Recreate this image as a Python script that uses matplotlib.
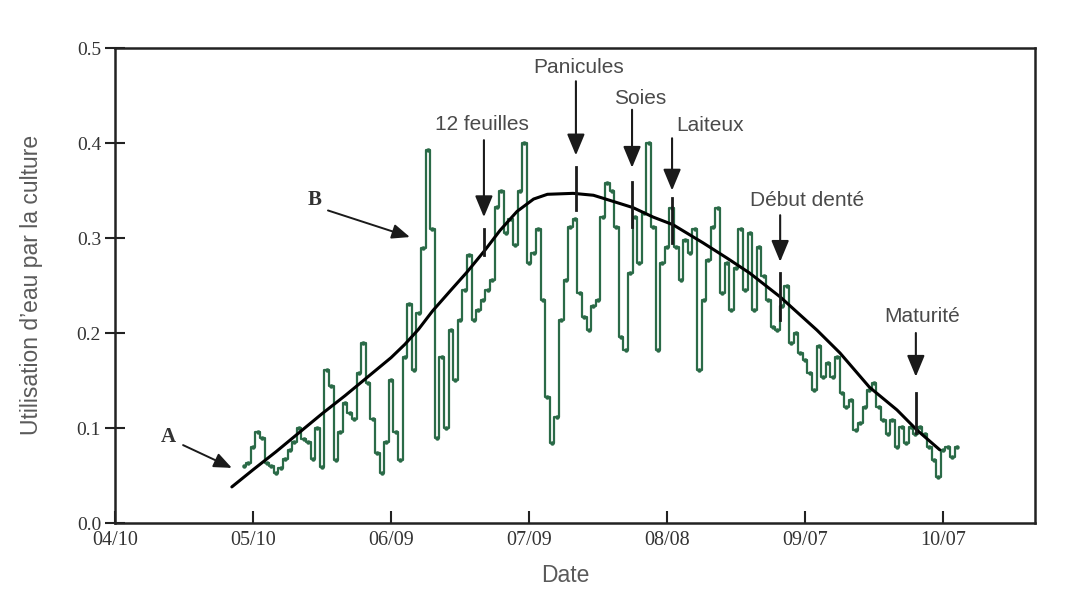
import matplotlib
matplotlib.use("Agg")
import matplotlib.pyplot as plt
import numpy as np

# ---------------- data ----------------
tick_days = [0, 30, 60, 90, 120, 150, 180]
tick_labels = ["04/10", "05/10", "06/09", "07/09", "08/08", "09/07", "10/07"]
y_ticks = [0.0, 0.1, 0.2, 0.3, 0.4, 0.5]

green_start_day = 28
green_values = [
    0.060, 0.063, 0.080, 0.096, 0.090, 0.063, 0.060, 0.053, 0.058, 0.067,
    0.077, 0.085, 0.100, 0.088, 0.085, 0.067, 0.100, 0.059, 0.161, 0.144,
    0.066, 0.096, 0.126, 0.116, 0.110, 0.158, 0.190, 0.147, 0.110, 0.074,
    0.053, 0.085, 0.151, 0.096, 0.066, 0.175, 0.231, 0.161, 0.221, 0.290,
    0.393, 0.310, 0.090, 0.175, 0.100, 0.203, 0.151, 0.214, 0.245, 0.282,
    0.214, 0.224, 0.235, 0.245, 0.256, 0.333, 0.350, 0.305, 0.320, 0.293,
    0.350, 0.400, 0.274, 0.284, 0.309, 0.235, 0.133, 0.084, 0.112, 0.214,
    0.256, 0.312, 0.320, 0.242, 0.217, 0.203, 0.228, 0.235, 0.322, 0.358,
    0.350, 0.312, 0.196, 0.182, 0.263, 0.322, 0.274, 0.326, 0.400, 0.312,
    0.182, 0.274, 0.291, 0.332, 0.291, 0.256, 0.298, 0.284, 0.310, 0.161,
    0.235, 0.277, 0.312, 0.332, 0.242, 0.274, 0.224, 0.268, 0.309, 0.245,
    0.305, 0.224, 0.291, 0.260, 0.235, 0.206, 0.203, 0.228, 0.249, 0.190,
    0.200, 0.179, 0.172, 0.158, 0.140, 0.186, 0.154, 0.168, 0.154, 0.175,
    0.137, 0.122, 0.129, 0.098, 0.105, 0.122, 0.140, 0.147, 0.122, 0.108,
    0.094, 0.108, 0.080, 0.101, 0.084, 0.101, 0.094, 0.101, 0.094, 0.080,
    0.066, 0.048, 0.077, 0.080, 0.070, 0.080,
]
green_days = list(range(green_start_day, green_start_day + len(green_values)))

curve_days = [25.4, 30, 35, 40, 45, 50, 55, 60, 63, 66, 69, 73, 76.5, 80.4,
              83.7, 87.4, 91, 94, 99.6, 104, 106, 112.6, 117, 121.3, 127.8,
              133, 138, 144.6, 152.6, 157.6, 164, 170, 174.3, 179.3]
curve_values = [0.038, 0.056, 0.075, 0.095, 0.115, 0.134, 0.154, 0.174, 0.188,
                0.204, 0.223, 0.245, 0.264, 0.287, 0.308, 0.328, 0.341, 0.346,
                0.347, 0.345, 0.342, 0.332, 0.322, 0.314, 0.295, 0.279, 0.263,
                0.238, 0.203, 0.179, 0.143, 0.119, 0.098, 0.077]

stage_labels = ["12 feuilles", "Panicules", "Soies", "Laiteux", "Début denté", "Maturité"]
stage_days = [80.2, 100.2, 112.4, 121.1, 144.6, 174.1]

# ---------------- figure ----------------
plt.rcParams['font.family'] = ['DejaVu Sans']
fig = plt.figure(figsize=(10.88, 5.89), dpi=100)
ax = fig.add_axes([115/1088, 1-523/589, 920/1088, 475/589])

ax.set_xlim(0, 200)
ax.set_ylim(0, 0.5)

green = "#2b6b48"
ax.plot(green_days, green_values, drawstyle="steps-mid", color=green, lw=1.6,
        marker="o", ms=2.2, mec=green, mfc=green, zorder=2)
ax.plot(curve_days, curve_values, color="black", lw=2.2, zorder=3,
        solid_capstyle="round")

# frame / ticks
for s in ax.spines.values():
    s.set_linewidth(1.8)
    s.set_color("#222222")
ax.set_xticks(tick_days)
ax.set_xticklabels(tick_labels)
ax.set_yticks(y_ticks)
ax.set_yticklabels([f"{v:.1f}" for v in y_ticks])
ax.tick_params(axis="x", direction="in", length=9, width=1.5, pad=6,
               colors="#222222", labelcolor="#333333")
ax.tick_params(axis="y", direction="inout", length=14, width=1.5, pad=3,
               colors="#222222", labelcolor="#333333")
for lab in ax.get_xticklabels():
    lab.set_fontfamily("Liberation Serif")
    lab.set_fontsize(14.5)
for lab in ax.get_yticklabels():
    lab.set_fontfamily("Liberation Serif")
    lab.set_fontsize(14)

# axis labels
fig.text(565/1088, 1-575/589, "Date", ha="center", va="center",
         fontsize=16.5, color="#5a5a5a", family="Liberation Sans")
fig.text(32/1088, 1-285/589, "Utilisation d\u2019eau par la culture", ha="center",
         va="center", rotation=90, fontsize=16.5, color="#5a5a5a",
         family="Liberation Sans")

# stage annotations: (text_y, arrow_top, arrow_tip, line_top, line_bottom) in axis values
stage_layout = [
    (0.419, 0.403, 0.322, 0.309, 0.282),
    (0.479, 0.465, 0.387, 0.375, 0.329),
    (0.447, 0.435, 0.374, 0.359, 0.312),
    (0.418, 0.405, 0.350, 0.342, 0.295),
    (0.339, 0.324, 0.275, 0.263, 0.214),
    (0.217, 0.200, 0.154, 0.137, 0.095),
]
text_dx = [-0.4, 0.6, 1.8, 8.3, 5.8, 1.3]
for lab, d, (ty, a0, a1, l0, l1), dx in zip(stage_labels, stage_days, stage_layout, text_dx):
    ax.text(d + dx, ty, lab, ha="center", va="center", fontsize=15,
            color="#4a4a4a", family="Liberation Sans", zorder=5)
    ax.annotate("", xy=(d, a1), xytext=(d, a0),
                arrowprops=dict(arrowstyle="-|>,head_length=0.65,head_width=0.27",
                                mutation_scale=20, color="#1a1a1a", lw=1.5,
                                shrinkA=0, shrinkB=0), zorder=5)
    ax.plot([d, d], [l1, l0], color="#1a1a1a", lw=2.0, zorder=4)

# A / B labels
ax.text(11.5, 0.0905, "A", ha="center", va="center", fontsize=15,
        fontweight="bold", family="Liberation Serif", color="#333333")
ax.annotate("", xy=(25.4, 0.058), xytext=(14.8, 0.082),
            arrowprops=dict(arrowstyle="-|>,head_length=0.6,head_width=0.25",
                            mutation_scale=18, color="#1a1a1a", lw=1.4,
                            shrinkA=0, shrinkB=0))
ax.text(43.5, 0.340, "B", ha="center", va="center", fontsize=15,
        fontweight="bold", family="Liberation Serif", color="#333333")
ax.annotate("", xy=(64.1, 0.301), xytext=(46.3, 0.329),
            arrowprops=dict(arrowstyle="-|>,head_length=0.6,head_width=0.25",
                            mutation_scale=18, color="#1a1a1a", lw=1.4,
                            shrinkA=0, shrinkB=0))

fig.savefig("out.png", dpi=100)
